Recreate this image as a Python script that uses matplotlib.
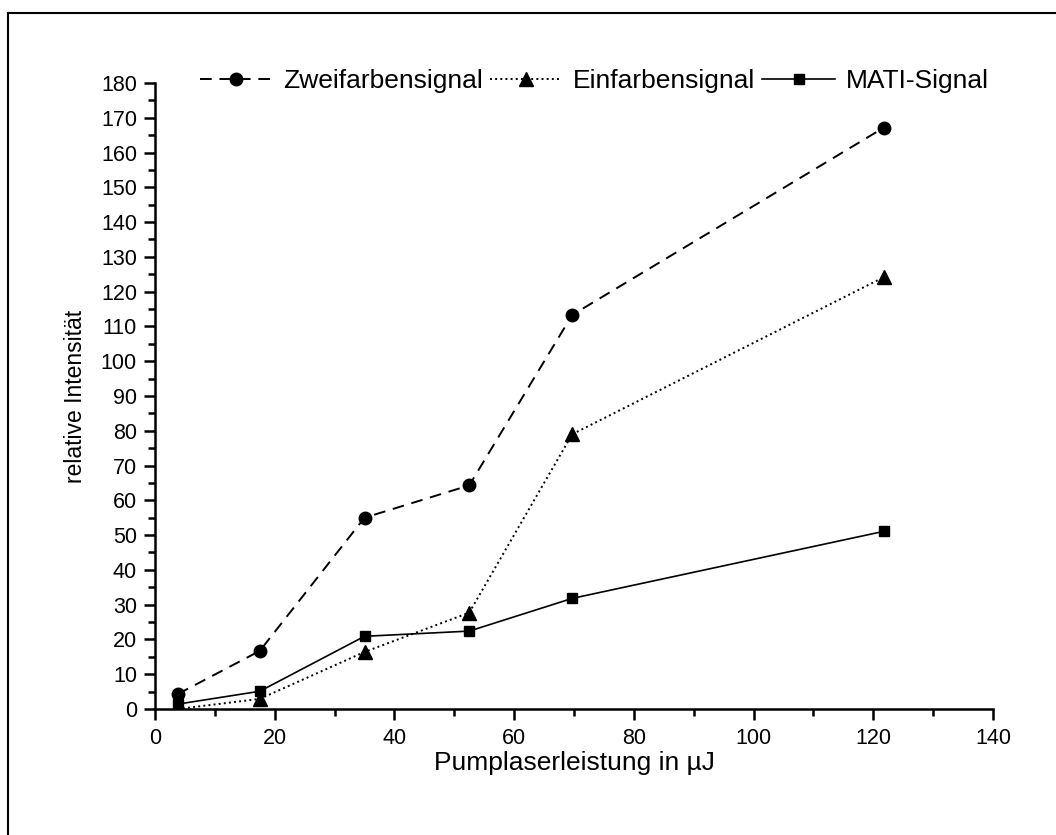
#!/usr/bin/env python

import numpy as np
import matplotlib.pyplot as plt
from matplotlib.lines import Line2D
from matplotlib.ticker import MultipleLocator

# Pumplaserleistung (uJ)
energie = [3.8, 17.5, 35.0, 52.5, 69.7, 121.8]
zweifarben = [4.3, 16.7, 55.0, 64.3, 113.3, 167.2]
einfarben = [0.0, 2.9, 16.4, 27.7, 79.0, 124.2]
mati = [1.4, 5.1, 20.9, 22.4, 31.8, 51.1]


def main():
    plt.rcParams['font.family'] = ['Liberation Sans', 'DejaVu Sans']
    fig = plt.figure(figsize=(10.56, 8.35), dpi=100)
    ax = fig.add_axes([0.1468, 0.1509, 0.7935, 0.7497])

    ax.plot(energie, zweifarben, '--', color='black', lw=1.4,
            marker='o', ms=9, dashes=(6, 4), label='Zweifarbensignal')
    ax.plot(energie, einfarben, ':', color='black', lw=1.4,
            marker='^', ms=10, label='Einfarbensignal')
    ax.plot(energie, mati, '-', color='black', lw=1.2,
            marker='s', ms=7.5, label='MATI-Signal')

    ax.set_xlim(0, 140)
    ax.set_ylim(0, 180)
    ax.xaxis.set_major_locator(MultipleLocator(20))
    ax.xaxis.set_minor_locator(MultipleLocator(10))
    ax.yaxis.set_major_locator(MultipleLocator(10))
    ax.yaxis.set_minor_locator(MultipleLocator(5))

    for s in ['top', 'right']:
        ax.spines[s].set_visible(False)
    for s in ['left', 'bottom']:
        ax.spines[s].set_linewidth(1.8)
    ax.tick_params(which='major', direction='out', length=8, width=1.8,
                   labelsize=15.5)
    ax.tick_params(axis='x', which='major', pad=6)
    ax.tick_params(axis='y', which='major', pad=5)
    ax.tick_params(which='minor', direction='out', length=5, width=1.8)

    ax.set_xlabel('Pumplaserleistung in µJ', fontsize=19, labelpad=1)
    ax.set_ylabel('relative Intensität', fontsize=16.5, labelpad=10)

    ax.legend(loc='center', bbox_to_anchor=(0.524, 1.003), ncol=3,
              frameon=False, fontsize=19, handlelength=2.75,
              handletextpad=0.4, columnspacing=0.27, borderaxespad=0,
              borderpad=0)

    # partial frame around the picture
    fig.add_artist(Line2D([8 / 1056, 1], [1 - 13 / 835] * 2, color='black', lw=1.5,
                          transform=fig.transFigure))
    fig.add_artist(Line2D([8 / 1056] * 2, [0, 1 - 13 / 835], color='black', lw=1.5,
                          transform=fig.transFigure))

    fig.savefig('out.png', dpi=100)


if __name__ == "__main__":
    main()
